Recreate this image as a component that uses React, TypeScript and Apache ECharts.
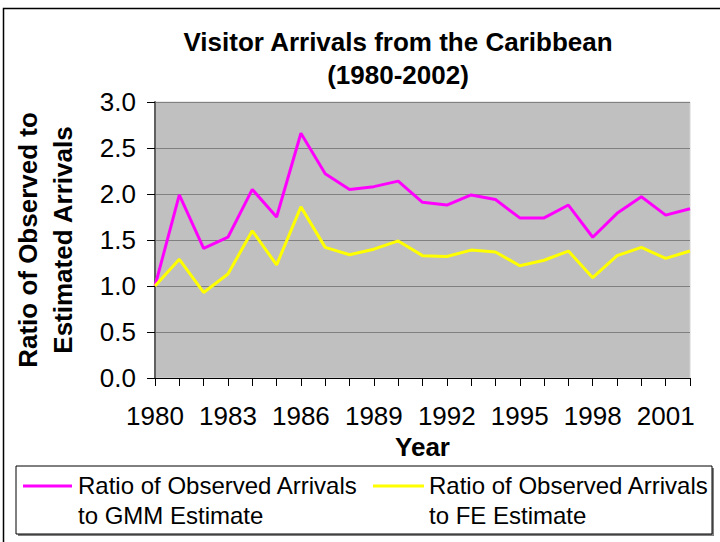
import React, { useEffect, useRef } from "react";
import * as echarts from "echarts";

// Years on the horizontal axis
const years = [
  "1980", "1981", "1982", "1983", "1984", "1985", "1986", "1987",
  "1988", "1989", "1990", "1991", "1992", "1993", "1994", "1995",
  "1996", "1997", "1998", "1999", "2000", "2001", "2002",
];

// Ratio of observed arrivals to the GMM estimate
const gmmRatio = [
  1.0, 1.99, 1.41, 1.53, 2.05, 1.75, 2.66, 2.22, 2.05, 2.08, 2.14, 1.91,
  1.88, 1.99, 1.94, 1.74, 1.74, 1.88, 1.53, 1.79, 1.97, 1.77, 1.84,
];

// Ratio of observed arrivals to the FE estimate
const feRatio = [
  1.0, 1.29, 0.93, 1.13, 1.6, 1.23, 1.86, 1.42, 1.34, 1.4, 1.49, 1.33,
  1.32, 1.39, 1.37, 1.22, 1.28, 1.38, 1.09, 1.33, 1.42, 1.3, 1.38,
];

const seriesNames = [
  "Ratio of Observed Arrivals\nto GMM Estimate",
  "Ratio of Observed Arrivals\nto FE Estimate",
];
const seriesColors = ["#FF00FF", "#FFFF00"];

const FONT = "'Liberation Sans', Arial, sans-serif";

export default function App() {
  const ref = useRef<HTMLDivElement>(null);

  useEffect(() => {
    if (!ref.current) return;
    const chart = echarts.init(ref.current, undefined, { renderer: "svg" });

    chart.setOption({
      animation: false,
      backgroundColor: "#ffffff",
      textStyle: { fontFamily: FONT, color: "#000" },
      grid: {
        left: 155,
        top: 102,
        right: 30,
        bottom: 164,
        containLabel: false,
        show: true,
        backgroundColor: "#C0C0C0",
        borderColor: "#D4D4D4",
        borderWidth: 1,
      },
      xAxis: {
        type: "category",
        data: years,
        boundaryGap: false,
        name: "Year",
        nameLocation: "middle",
        nameGap: 54,
        nameTextStyle: { fontSize: 26, fontWeight: "bold", color: "#000", fontFamily: FONT },
        axisLine: { show: true, lineStyle: { color: "#000", width: 1 } },
        axisTick: { show: true, interval: 0, length: 8, lineStyle: { color: "#000" } },
        axisLabel: {
          interval: 2,
          margin: 25,
          fontSize: 26,
          color: "#000",
          fontFamily: FONT,
        },
        splitLine: { show: false },
      },
      yAxis: {
        type: "value",
        min: 0,
        max: 3,
        interval: 0.5,
        axisLine: { show: true, lineStyle: { color: "#606060", width: 2 } },
        axisTick: { show: true, length: 8, lineStyle: { color: "#000" } },
        axisLabel: {
          margin: 19,
          fontSize: 26,
          color: "#000",
          fontFamily: FONT,
          formatter: (v: number) => v.toFixed(1),
        },
        splitLine: { show: true, lineStyle: { color: "#808080", width: 1 } },
      },
      series: [
        {
          name: seriesNames[0],
          type: "line",
          data: gmmRatio,
          symbol: "none",
          lineStyle: { color: seriesColors[0], width: 3 },
          itemStyle: { color: seriesColors[0] },
        },
        {
          name: seriesNames[1],
          type: "line",
          data: feRatio,
          symbol: "none",
          lineStyle: { color: seriesColors[1], width: 3 },
          itemStyle: { color: seriesColors[1] },
        },
      ],
      graphic: [
        // outer chart frame
        {
          type: "rect",
          shape: { x: 3.5, y: 8.5, width: 800, height: 800 },
          style: { fill: "none", stroke: "#000", lineWidth: 1.5 },
          silent: true,
          z: 100,
        },
        // title
        {
          type: "text",
          x: 398,
          y: 58,
          style: {
            text: "Visitor Arrivals from the Caribbean\n(1980-2002)",
            textAlign: "center",
            textVerticalAlign: "middle",
            fontSize: 26,
            fontWeight: "bold",
            lineHeight: 33,
            fontFamily: FONT,
            fill: "#000",
          },
        },
        // y-axis title
        {
          type: "text",
          x: 45,
          y: 240,
          rotation: Math.PI / 2,
          style: {
            text: "Ratio of Observed to\nEstimated Arrivals",
            textAlign: "center",
            textVerticalAlign: "middle",
            fontSize: 26,
            fontWeight: "bold",
            lineHeight: 35,
            fontFamily: FONT,
            fill: "#000",
          },
        },
        // legend box with shadow
        {
          type: "rect",
          shape: { x: 18, y: 468, width: 696, height: 68 },
          style: { fill: "#808080" },
          silent: true,
        },
        {
          type: "rect",
          shape: { x: 16, y: 466, width: 696, height: 68 },
          style: { fill: "#fff", stroke: "#000", lineWidth: 1 },
          silent: true,
        },
        {
          type: "line",
          shape: { x1: 23, y1: 486, x2: 72, y2: 486 },
          style: { stroke: seriesColors[0], lineWidth: 3 },
        },
        {
          type: "text",
          x: 78,
          y: 470,
          style: {
            text: seriesNames[0],
            textAlign: "left",
            textVerticalAlign: "top",
            fontSize: 24,
            lineHeight: 30,
            fontFamily: FONT,
            fill: "#000",
          },
        },
        {
          type: "line",
          shape: { x1: 373, y1: 486, x2: 424, y2: 486 },
          style: { stroke: seriesColors[1], lineWidth: 3 },
        },
        {
          type: "text",
          x: 429,
          y: 470,
          style: {
            text: seriesNames[1],
            textAlign: "left",
            textVerticalAlign: "top",
            fontSize: 24,
            lineHeight: 30,
            fontFamily: FONT,
            fill: "#000",
          },
        },
      ],
    });

    return () => chart.dispose();
  }, []);

  return (
    <div style={{ position: "absolute", left: 0, top: 0 }}>
      <div ref={ref} style={{ width: 720, height: 542 }} />
    </div>
  );
}
